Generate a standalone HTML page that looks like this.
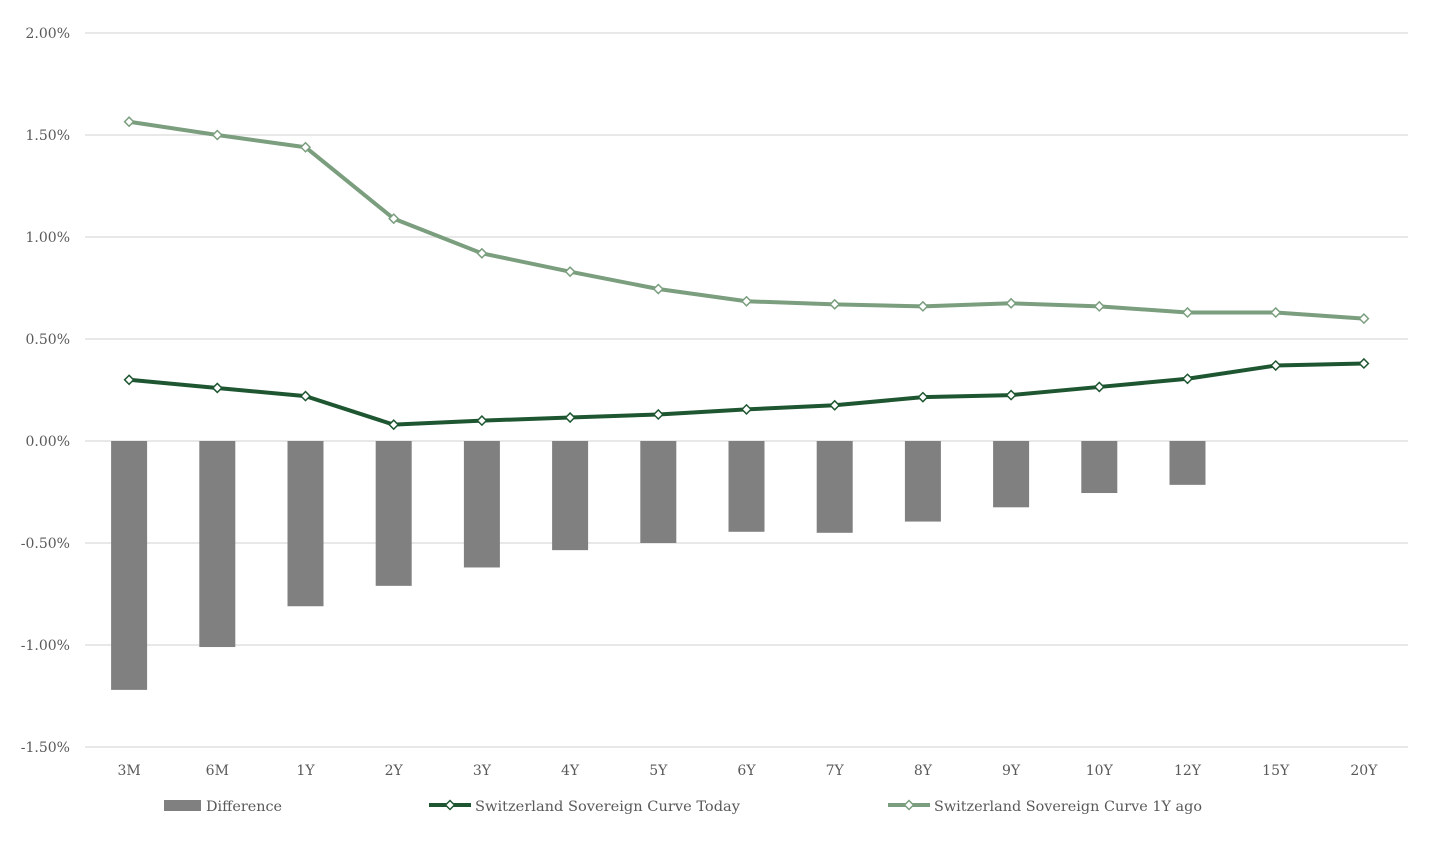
<!DOCTYPE html>
<html><head><meta charset="utf-8"><style>
body{margin:0;background:#fff;}
svg{display:block;font-family:"DejaVu Serif","Liberation Serif",serif;}
</style></head><body>
<svg id="chart" width="1430" height="852"></svg>
<script>
const categories=["3M","6M","1Y","2Y","3Y","4Y","5Y","6Y","7Y","8Y","9Y","10Y","12Y","15Y","20Y"];
const diffValues=[-1.22,-1.01,-0.81,-0.71,-0.62,-0.535,-0.50,-0.445,-0.45,-0.395,-0.325,-0.255,-0.215,null,null];
const todayValues=[0.30,0.26,0.22,0.08,0.10,0.115,0.13,0.155,0.175,0.215,0.225,0.265,0.305,0.37,0.38];
const agoValues=[1.565,1.50,1.44,1.09,0.92,0.83,0.745,0.685,0.67,0.66,0.675,0.66,0.63,0.63,0.60];
const yTicks=[2.0,1.5,1.0,0.5,0.0,-0.5,-1.0,-1.5];
const yTickLabels=["2.00%","1.50%","1.00%","0.50%","0.00%","-0.50%","-1.00%","-1.50%"];

const NS="http://www.w3.org/2000/svg";
const svg=document.getElementById('chart');
const x0=85,x1=1408,yTop=33,yMax=2.0,pxPer=204;
const bw=(x1-x0)/categories.length;
const xc=i=>x0+bw*(i+0.5);
const y=v=>yTop+(yMax-v)*pxPer;
function mk(t,a){const e=document.createElementNS(NS,t);for(const k in a)e.setAttribute(k,a[k]);svg.appendChild(e);return e;}

yTicks.forEach((t,i)=>{
  const g=mk('line',{x1:x0,x2:x1,y1:y(t),y2:y(t),stroke:'#d9d9d9','stroke-width':1.3});
  
  
  const l=mk('text',{x:70,y:y(t)+5,'text-anchor':'end','font-size':14,fill:'#595959'});
  l.textContent=yTickLabels[i];
  
  
});
categories.forEach((c,i)=>{
  const l=mk('text',{x:xc(i),y:775,'text-anchor':'middle','font-size':14,fill:'#595959'});
  l.textContent=c;
  
  
});
diffValues.forEach((v,i)=>{
  if(v==null)return;
  const r=mk('rect',{x:xc(i)-18,y:y(0),width:36,height:y(v)-y(0),fill:'#808080'});
  
  
});
function line(vals,color,w,name){
  const p=mk('polyline',{points:vals.map((v,i)=>xc(i)+','+y(v)).join(' '),fill:'none',stroke:color,'stroke-width':w,'stroke-linejoin':'round'});
  
  
  vals.forEach((v,i)=>{
    const m=mk('path',{d:`M${xc(i)-4.5},${y(v)} L${xc(i)},${y(v)-4.5} L${xc(i)+4.5},${y(v)} L${xc(i)},${y(v)+4.5} Z`,fill:'#fff',stroke:color,'stroke-width':1.5});
    
    
  });
}
line(agoValues,'#7a9e7e',4,'curve-1y-ago');
line(todayValues,'#1e5631',4,'curve-today');

let r=mk('rect',{x:164,y:800,width:37,height:11,fill:'#808080'});


let t=mk('text',{x:206,y:811,'font-size':14,fill:'#595959',textLength:76,lengthAdjust:'spacingAndGlyphs'});t.textContent='Difference';


function legLine(x,color,label,name,len){
  const l=mk('line',{x1:x,x2:x+42,y1:805,y2:805,stroke:color,'stroke-width':4});
  
  
  const cx=x+21;
  const m=mk('path',{d:`M${cx-4.5},805 L${cx},800.5 L${cx+4.5},805 L${cx},809.5 Z`,fill:'#fff',stroke:color,'stroke-width':1.5});
  
  
  const tx=mk('text',{x:x+46,y:811,'font-size':14,fill:'#595959',textLength:len,lengthAdjust:'spacingAndGlyphs'});tx.textContent=label;
  
  
}
legLine(429,'#1e5631','Switzerland Sovereign Curve Today','legend-today',265);
legLine(888,'#7a9e7e','Switzerland Sovereign Curve 1Y ago','legend-1y-ago',268);
</script>
</body></html>
